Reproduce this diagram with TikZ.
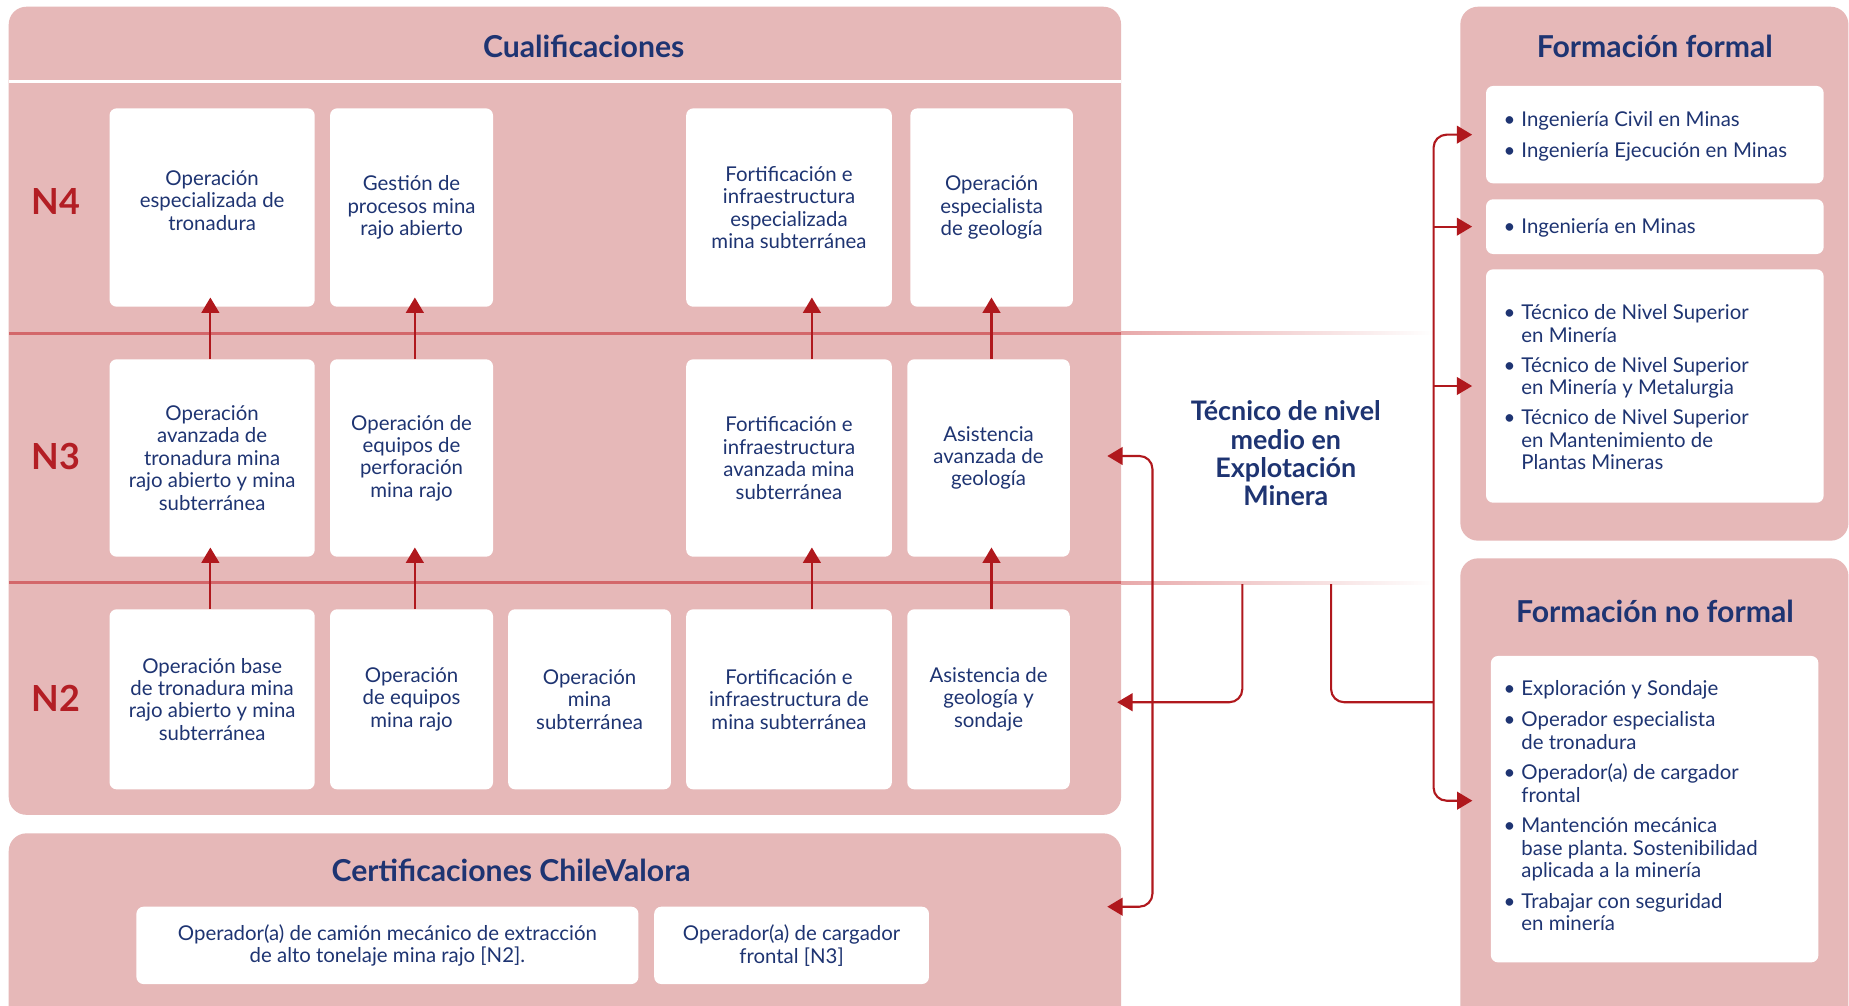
\documentclass[tikz,border=0pt]{standalone}
\usepackage{fontspec}
\setmainfont{Lato}
\frenchspacing
\usetikzlibrary{arrows.meta,calc}
\definecolor{pnk}{HTML}{E6B8B8}
\definecolor{navy}{HTML}{1E3472}
\definecolor{redtxt}{HTML}{B31E24}
\definecolor{arw}{HTML}{B0181D}
\definecolor{sepin}{HTML}{D3676A}
\definecolor{sepout}{HTML}{E8A9AA}
\newcommand\bodyfont{\fontsize{17.3}{19}\selectfont}
\newcommand\bitem[1]{\makebox[15pt][l]{\textbullet}#1}
\newcommand\bcont[1]{\hspace*{15pt}#1}
\newcommand\qb[6]{\node[qbox,minimum width={(#4-#2)*1pt},minimum height={(#5-#3)*1pt}] (#1) at ({(#2+#4)/2},{(#3+#5)/2}) {#6};}
\tikzset{
  panel/.style={fill=pnk, rounded corners=15pt},
  qbox/.style={fill=white, rounded corners=6pt, align=center, text=navy, font=\bodyfont, inner sep=0pt},
  wbox/.style={fill=white, rounded corners=6pt, inner sep=0pt},
  ttl/.style={text=navy, font=\fontsize{25.6}{30}\selectfont\bfseries, inner sep=0pt},
  lvl/.style={text=redtxt, font=\fontsize{30.5}{36}\selectfont\bfseries, inner sep=0pt},
  list/.style={text=navy, font=\bodyfont, align=left, anchor=west, inner sep=0pt},
  conn/.style={draw=arw, line width=1.8pt},
  tri/.tip={Triangle[length=13pt,width=15pt]},
}
\begin{document}
\begin{tikzpicture}[x=1pt,y=-1pt]
\clip (0,0) rectangle (1568,853);
\fill[white] (0,0) rectangle (1568,853);
% panels
\fill[panel] (7.4,5.7) rectangle (950.7,691);
\fill[panel] (7.4,706.7) rectangle (950.7,900);
\fill[panel] (1238.4,5.7) rectangle (1567.5,458.5);
\fill[panel] (1238.4,473.5) rectangle (1567.5,900);
% white divider
\fill[white] (7.4,68) rectangle (950.7,70.6);
% level separators
\fill[sepin] (7.4,281.5) rectangle (950.7,284);
\fill[sepin] (7.4,492.9) rectangle (950.7,495.4);
\shade[left color=sepout, right color=white] (950.7,281.5) rectangle (1216,284);
\shade[left color=sepout, right color=white] (950.7,492.9) rectangle (1216,495.4);
% titles
\node[ttl] (tq) at (495,39.6) {Cualificaciones};
\node[ttl] (tc) at (433.4,737.8) {Certificaciones ChileValora};
\node[ttl] (tf) at (1403.3,39.6) {Formación formal};
\node[ttl] (tn) at (1403.4,518.7) {Formación no formal};
% levels
\node[lvl] (l4) at (47.6,171) {N4};
\node[lvl] (l3) at (47.6,387) {N3};
\node[lvl] (l2) at (47.6,592) {N2};
% N4
\qb{n4c1}{92.9}{91.9}{266.9}{260.1}{Operación\\especializada de\\tronadura\\[-7pt]}
\qb{n4c2}{279.9}{91.9}{418.1}{260.1}{Gestión de\\procesos mina\\rajo abierto}
\qb{n4c4}{581.9}{91.9}{756.3}{260.1}{Fortificación e\\infraestructura\\especializada\\mina subterránea}
\qb{n4c5}{772}{91.9}{909.9}{260.1}{Operación\\especialista\\de geología}
% N3
\qb{n3c1}{92.9}{304.7}{266.9}{472.1}{Operación\\avanzada de\\tronadura mina\\rajo abierto y mina\\subterránea}
\qb{n3c2}{279.9}{304.7}{418.1}{472.1}{Operación de\\equipos de\\perforación\\mina rajo}
\qb{n3c4}{581.9}{304.7}{756.3}{472.1}{Fortificación e\\infraestructura\\avanzada mina\\subterránea}
\qb{n3c5}{769.4}{304.7}{907.2}{472.1}{Asistencia\\avanzada de\\geología}
% N2
\qb{n2c1}{92.9}{516.7}{266.9}{669.4}{Operación base\\de tronadura mina\\rajo abierto y mina\\subterránea}
\qb{n2c2}{279.9}{516.7}{418.1}{669.4}{Operación\\de equipos\\mina rajo}
\qb{n2c3}{430.9}{516.7}{569}{669.4}{Operación\\mina\\subterránea}
\qb{n2c4}{581.9}{516.7}{756.3}{669.4}{Fortificación e\\infraestructura de\\mina subterránea}
\qb{n2c5}{769.4}{516.7}{907.2}{669.4}{Asistencia de\\geología y\\sondaje}
% certifications
\qb{cb1}{115.7}{768.9}{541.4}{834.5}{Operador(a) de camión mecánico de extracción\\de alto tonelaje mina rajo [N2].}
\qb{cb2}{554.8}{768.9}{787.8}{834.5}{Operador(a) de cargador\\frontal [N3]}
% formal boxes
\node[wbox,minimum width=286.3pt,minimum height=82.6pt] (fb1) at (1403.35,114.2) {};
\node[wbox,minimum width=286.3pt,minimum height=46.4pt] (fb2) at (1403.35,192.2) {};
\node[wbox,minimum width=286.3pt,minimum height=197.9pt] (fb3) at (1403.35,327.35) {};
\node[wbox,minimum width=277.7pt,minimum height=259.8pt] (nfb) at (1403.15,686.2) {};
\node[list] (fl1) at (1275,115.5) {\bitem{Ingeniería Civil en Minas}\\[7pt]\bitem{Ingeniería Ejecución en Minas}};
\node[list] (fl2) at (1275,193.6) {\bitem{Ingeniería en Minas}};
\node[list] (fl3) at (1275,328.5) {\bitem{Técnico de Nivel Superior}\\\bcont{en Minería}\\[6.5pt]\bitem{Técnico de Nivel Superior}\\\bcont{en Minería y Metalurgia}\\[6.5pt]\bitem{Técnico de Nivel Superior}\\\bcont{en Mantenimiento de}\\\bcont{Plantas Mineras}};
\node[list] (nl) at (1275,683.4) {\bitem{Exploración y Sondaje}\\[7pt]\bitem{Operador especialista}\\\bcont{de tronadura}\\[7pt]\bitem{Operador(a) de cargador}\\\bcont{frontal}\\[7pt]\bitem{Mantención mecánica}\\\bcont{base planta. Sostenibilidad}\\\bcont{aplicada a la minería}\\[7pt]\bitem{Trabajar con seguridad}\\\bcont{en minería}};
% central label
\node[text=navy, font=\fontsize{22.8}{24}\selectfont\bfseries, align=center, inner sep=0pt] (tec) at (1090.4,384.5) {Técnico de nivel\\medio en\\Explotación\\Minera};
% vertical arrows between levels
\foreach \lo/\hi/\dx in {n2c1/n3c1/-1.5, n2c2/n3c2/2.8, n2c4/n3c4/19.4, n2c5/n3c5/2.5, n3c1/n4c1/-1.5, n3c2/n4c2/2.8, n3c4/n4c4/19.4, n3c5/n4c5/2.5}
  \draw[conn,-{tri},shorten >=-8pt] ([xshift=\dx pt]\lo.north) -- ([xshift=\dx pt]\lo.north |- \hi.south);
% right-hand connectors
\coordinate (tL) at (1053.5,495.4);
\coordinate (tR) at (1128.8,495.4);
\coordinate (q2) at (947.4,595.5);
\coordinate (q3) at (939,386.7);
\coordinate (cq) at (939,768.9);
\coordinate (brx) at (977.3,0);
\coordinate (trx) at (1215.7,0);
\coordinate (nfa) at (1248.6,679);
\draw[conn,rounded corners=11pt,{tri}-{tri}] (q3) -- (q3 -| brx) -- (cq -| brx) -- (cq);
\draw[conn,rounded corners=11pt,-{tri}] (tL) |- (q2);
\draw[conn,rounded corners=11pt] (tR) |- (q2 -| trx);
\draw[conn,rounded corners=11pt,{tri}-{tri}] ([xshift=-11.6pt]fb1.west) -- (fb1.west -| trx) -- (nfa -| trx) -- (nfa);
\draw[conn,-{tri}] (fb2.west -| trx) -- ([xshift=-11.6pt]fb2.west);
\draw[conn,-{tri}] (fb3.west -| trx) -- ([xshift=-11.6pt]fb3.west);
\end{tikzpicture}
\end{document}
